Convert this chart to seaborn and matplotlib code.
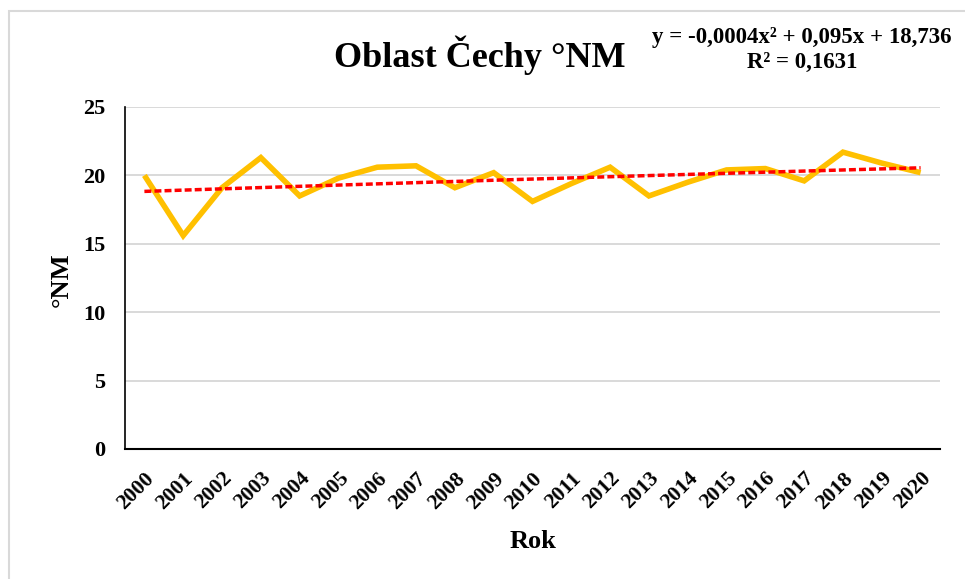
import numpy as np
import pandas as pd
import matplotlib
matplotlib.use("Agg")
import matplotlib.pyplot as plt
from matplotlib.patches import Rectangle
import seaborn as sns

years = [str(y) for y in range(2000, 2021)]
values = [20.0, 15.6, 19.1, 21.3, 18.5, 19.8, 20.6, 20.7, 19.1, 20.2, 18.1,
          19.4, 20.6, 18.5, 19.5, 20.4, 20.5, 19.6, 21.7, 20.9, 20.2]
trend_coef = [-0.0004, 0.095, 18.736]
title_text = "Oblast Čechy °NM"
equation_line1 = "y = -0,0004x² + 0,095x + 18,736"
equation_line2 = "R² = 0,1631"
y_ticks = [0, 5, 10, 15, 20, 25]

sns.set_theme(style="white")
plt.rcParams['font.family'] = ['Liberation Serif', 'DejaVu Serif']
plt.rcParams['font.weight'] = 'bold'
plt.rcParams['text.color'] = 'black'
plt.rcParams['xtick.color'] = 'black'
plt.rcParams['ytick.color'] = 'black'

idx = np.arange(1, len(years) + 1)
trend = np.polyval(trend_coef, idx)
df = pd.DataFrame({"Rok": years, "val": values, "trend": trend, "pos": np.arange(len(years))})

fig = plt.figure(figsize=(9.65, 5.79), dpi=100)
ax = fig.add_axes([125/965, 1-449/579, (940-125)/965, (449-107)/579])

sns.lineplot(data=df, x="pos", y="val", ax=ax, color="#FFC000", linewidth=4.0,
             solid_joinstyle="miter", solid_capstyle="butt")
sns.lineplot(data=df, x="pos", y="trend", ax=ax, color="#FF0000", linewidth=2.5,
             dashes=False)
ax.lines[1].set_linestyle((0, (2.0, 0.9)))
ax.lines[1].set_dash_capstyle("butt")

ax.set_xlim(-0.5, len(years) - 0.5)
ax.set_ylim(0, 25)
ax.set_yticks(y_ticks)
ax.set_yticklabels([str(t) for t in y_ticks], fontsize=16, fontweight='bold', color='black')
ax.set_xticks(np.arange(len(years)))
ax.set_xticklabels(years, rotation=45, ha="right", va="top", rotation_mode="anchor",
                   fontsize=15.5, fontweight='bold', color='black')
ax.tick_params(axis='both', length=0)
ax.tick_params(axis='x', pad=14)
ax.tick_params(axis='y', pad=14)
ax.yaxis.grid(True, color="#d9d9d9", linewidth=1.4)
ax.set_axisbelow(True)
for s in ["top", "right"]:
    ax.spines[s].set_visible(False)
ax.spines["left"].set_color("black")
ax.spines["bottom"].set_color("black")
ax.spines["left"].set_linewidth(1.2)
ax.spines["bottom"].set_linewidth(1.5)
ax.set_xlabel("")
ax.set_ylabel("")

fig.text(61/965, 1-280/579, "°NM", rotation=90, ha="center", va="center",
         fontsize=19, fontweight='bold', color='black')
fig.text(533/965, 1-541/579, "Rok", ha="center", va="center",
         fontsize=19, fontweight='bold', color='black')
fig.text(480/965, 1-55/579, title_text, ha="center", va="center",
         fontsize=26, fontweight='bold', color='black')
fig.text(802/965, 1-38/579, equation_line1, ha="center", va="center",
         fontsize=16.5, fontweight='bold', color='black')
fig.text(802/965, 1-62/579, equation_line2, ha="center", va="center",
         fontsize=16.5, fontweight='bold', color='black')

fig.patches.append(Rectangle((9/965, -0.1), 1.2, (579-11)/579 + 0.1,
                             transform=fig.transFigure, fill=False,
                             edgecolor="#d9d9d9", linewidth=1.5))

fig.savefig("out.png", dpi=100)
